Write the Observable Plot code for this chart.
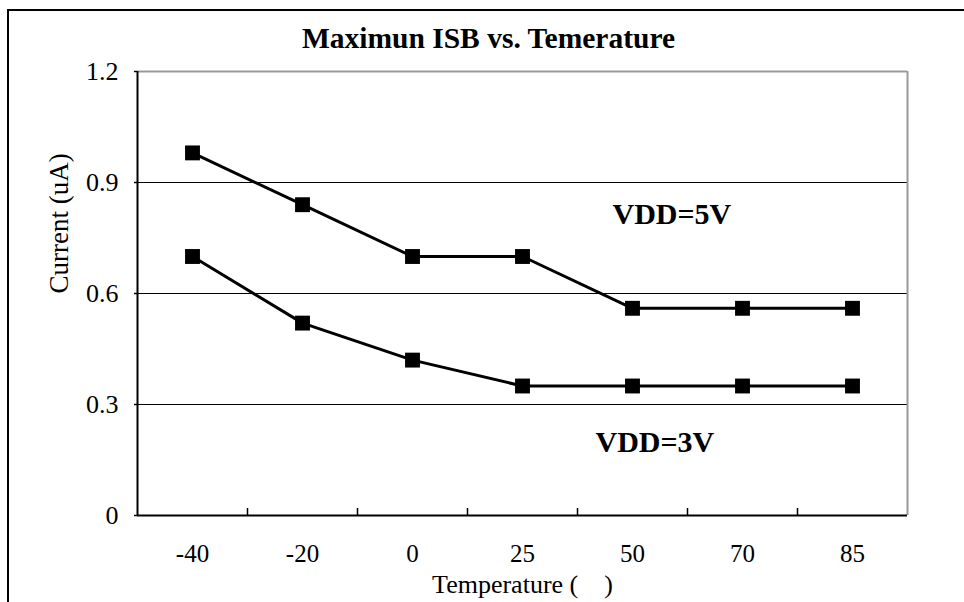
<!DOCTYPE html>
<html>
<head>
<meta charset="utf-8">
<script src="https://cdn.jsdelivr.net/npm/d3@7"></script>
<script src="https://cdn.jsdelivr.net/npm/@observablehq/plot@0.6"></script>
<style>
  html, body { margin: 0; padding: 0; background: #fff; }
  #wrap { position: relative; width: 964px; height: 602px; overflow: hidden; }
  #border { position: absolute; left: 7px; top: 9px; width: 1000px; height: 700px;
            border-left: 2px solid #000; border-top: 2px solid #000; }
  #chart { position: absolute; left: 0; top: 0; }
  svg { font-family: "Liberation Serif", "Times New Roman", serif; }
</style>
</head>
<body>
<div id="wrap"><div id="border"></div><div id="chart"></div></div>
<script>
const title = "Maximun ISB vs. Temerature";
const yLabel = "Current (uA)";
const xLabel = "Temperature (\u00a0\u00a0\u00a0\u00a0)";
const categories = ["-40", "-20", "0", "25", "50", "70", "85"];
const vdd5 = [0.98, 0.84, 0.70, 0.70, 0.56, 0.56, 0.56];
const vdd3 = [0.70, 0.52, 0.42, 0.35, 0.35, 0.35, 0.35];
const yTicks = [0, 0.3, 0.6, 0.9, 1.2];
const gridValues = [0.3, 0.6, 0.9];
const label5 = "VDD=5V";
const label3 = "VDD=3V";

const rows = [];
categories.forEach((c, i) => {
  rows.push({series: "5V", i, v: vdd5[i]});
  rows.push({series: "3V", i, v: vdd3[i]});
});
const idx = d3.range(categories.length);
const xMin = -0.5, xMax = categories.length - 0.5;
const boundaries = idx.slice(1).map(i => i - 0.5);
const fmtY = d => d === 0 ? "0" : d.toFixed(1);

const chart = Plot.plot({
  width: 964,
  height: 602,
  marginLeft: 137,
  marginRight: 57,
  marginTop: 71,
  marginBottom: 87,
  style: {fontFamily: '"Liberation Serif", "Times New Roman", serif', background: "transparent"},
  x: {type: "linear", domain: [xMin, xMax], axis: null},
  y: {domain: [0, 1.2], axis: null},
  marks: [
    Plot.ruleY(gridValues, {stroke: "#000", strokeWidth: 1}),
    Plot.ruleY([1.2], {stroke: "#999", strokeWidth: 2}),
    Plot.ruleX([xMax], {stroke: "#999", strokeWidth: 2}),
    Plot.ruleX([xMin], {stroke: "#000", strokeWidth: 2}),
    Plot.ruleY([0], {stroke: "#000", strokeWidth: 2}),
    Plot.ruleX(boundaries, {x: d => d, y1: 0, y2: 0, insetTop: -7, stroke: "#000", strokeWidth: 1.5}),
    Plot.ruleY(yTicks, {y: d => d, x1: xMin, x2: xMin, insetLeft: -3, stroke: "#000", strokeWidth: 1.5}),
    Plot.text(idx, {x: d => d, y: 0, text: i => categories[i], dy: 38, fontSize: 25, fill: "#000"}),
    Plot.text(yTicks, {x: xMin, y: d => d, text: fmtY, textAnchor: "end", dx: -19, fontSize: 26, fill: "#000"}),
    Plot.line(rows, {x: "i", y: "v", z: "series", stroke: "#000", strokeWidth: 3}),
    Plot.dot(rows, {x: "i", y: "v", symbol: "square", r: 8.4, fill: "#000", stroke: "none"}),
    Plot.text([title], {frameAnchor: "top", dx: -34, dy: -44, fontSize: 29.5, fontWeight: "bold", fill: "#000"}),
    Plot.text([yLabel], {frameAnchor: "left", dx: -78, rotate: -90, fontSize: 27, fill: "#000"}),
    Plot.text([xLabel], {frameAnchor: "bottom", dy: 77, fontSize: 26, fill: "#000"}),
    Plot.text([label5], {frameAnchor: "top-left", dx: 475, dy: 131, fontSize: 30, fontWeight: "bold", fill: "#000"}),
    Plot.text([label3], {frameAnchor: "top-left", dx: 458, dy: 359, fontSize: 30, fontWeight: "bold", fill: "#000"})
  ]
});
document.getElementById("chart").appendChild(chart);
</script>
</body>
</html>
